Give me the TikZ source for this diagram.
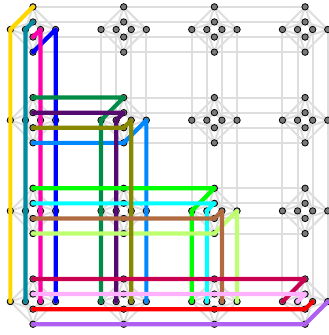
\documentclass[tikz,border=0pt]{standalone}
\usepackage{tikz}
\usetikzlibrary{backgrounds}

\definecolor{cgold}{RGB}{255,215,0}
\definecolor{cteal}{RGB}{0,140,160}
\definecolor{cmagenta}{RGB}{255,0,170}
\definecolor{cblue}{RGB}{0,0,255}
\definecolor{cforest}{RGB}{0,140,70}
\definecolor{cplum}{RGB}{85,10,110}
\definecolor{colive}{RGB}{136,136,0}
\definecolor{cazure}{RGB}{0,136,255}
\definecolor{clime}{RGB}{0,255,0}
\definecolor{caqua}{RGB}{0,255,255}
\definecolor{cbrown}{RGB}{176,108,64}
\definecolor{cpale}{RGB}{190,255,112}
\definecolor{ccrimson}{RGB}{200,0,80}
\definecolor{cpink}{RGB}{255,176,255}
\definecolor{cred}{RGB}{255,0,0}
\definecolor{clilac}{RGB}{176,96,240}

\begin{document}
\begin{tikzpicture}[
  x=1pt, y=-1pt,
  qb/.style={circle, draw=black, line width=0.8pt, fill=black!52, inner sep=0pt, minimum size=6.4pt},
  cpl/.style={black!13, line width=2pt},
  chn/.style={line width=4.2pt, line cap=round, line join=round},
]
\useasboundingbox (0,0) rectangle (329,335);

%% --- qubits: h = across the cell, v = down the cell ---
\foreach \c in {0,1,2,3} {
  \foreach \r in {0,1,2,3} {
    \foreach \k in {0,1,2,3} {
      \node[qb] (h\c\r\k) at (33+90.7*\c-22.65+15.1*\k, 29.5+90.7*\r) {};
      \node[qb] (v\c\r\k) at (33+90.7*\c, 29.5+90.7*\r-22.65+15.1*\k) {};
    }
  }
}

%% --- couplers, behind the qubits ---
\begin{pgfonlayer}{background}
\foreach \c in {0,1,2,3} {
  \foreach \r in {0,1,2,3} {
    \foreach \k in {0,1,2,3} {
      \foreach \m in {0,1,2,3} {
        \draw[cpl] (h\c\r\k) -- (v\c\r\m);
      }
    }
  }
}
\foreach \a/\b in {0/1,1/2,2/3} {
  \foreach \s in {0,1,2,3} {
    \foreach \k in {0,1,2,3} {
      \draw[cpl] (v\a\s\k) -- (v\b\s\k);
      \draw[cpl] (h\s\a\k) -- (h\s\b\k);
    }
  }
}
\end{pgfonlayer}

%% --- chains ---
\draw[chn, cgold]    (v000.center) -- (h000.center) -- (h030.center);
\draw[chn, cteal]    (v001.center) -- (h001.center) -- (h031.center);
\draw[chn, cblue]    (v003.center) -- (h003.center) -- (h033.center);
\draw[chn, cmagenta] (v002.center) -- (h002.center) -- (h032.center);

\draw[chn, cazure]   (v013.center) -- (v113.center) -- (h113.center) -- (h133.center);
\draw[chn, cforest]  (v010.center) -- (v110.center) -- (h110.center) -- (h130.center);
\draw[chn, cplum]    (v011.center) -- (v111.center) -- (h111.center) -- (h131.center);

\draw[chn, clime]    (v020.center) -- (v220.center) -- (h220.center) -- (h230.center);
\draw[chn, caqua]    (v021.center) -- (v221.center) -- (h221.center) -- (h231.center);
\draw[chn, cpale]    (v023.center) -- (v223.center) -- (h223.center) -- (h233.center);
\draw[chn, colive]   (v012.center) -- (v112.center) -- (h112.center) -- (h132.center);
\draw[chn, cbrown]   (v022.center) -- (v222.center) -- (h222.center) -- (h232.center);

\draw[chn, ccrimson] (v030.center) -- (v330.center) -- (h330.center);
\draw[chn, cpink]    (v031.center) -- (v331.center) -- (h331.center);
\draw[chn, cred]     (v032.center) -- (v332.center) -- (h332.center);
\draw[chn, clilac]   (v033.center) -- (v333.center) -- (h333.center);

\end{tikzpicture}
\end{document}
